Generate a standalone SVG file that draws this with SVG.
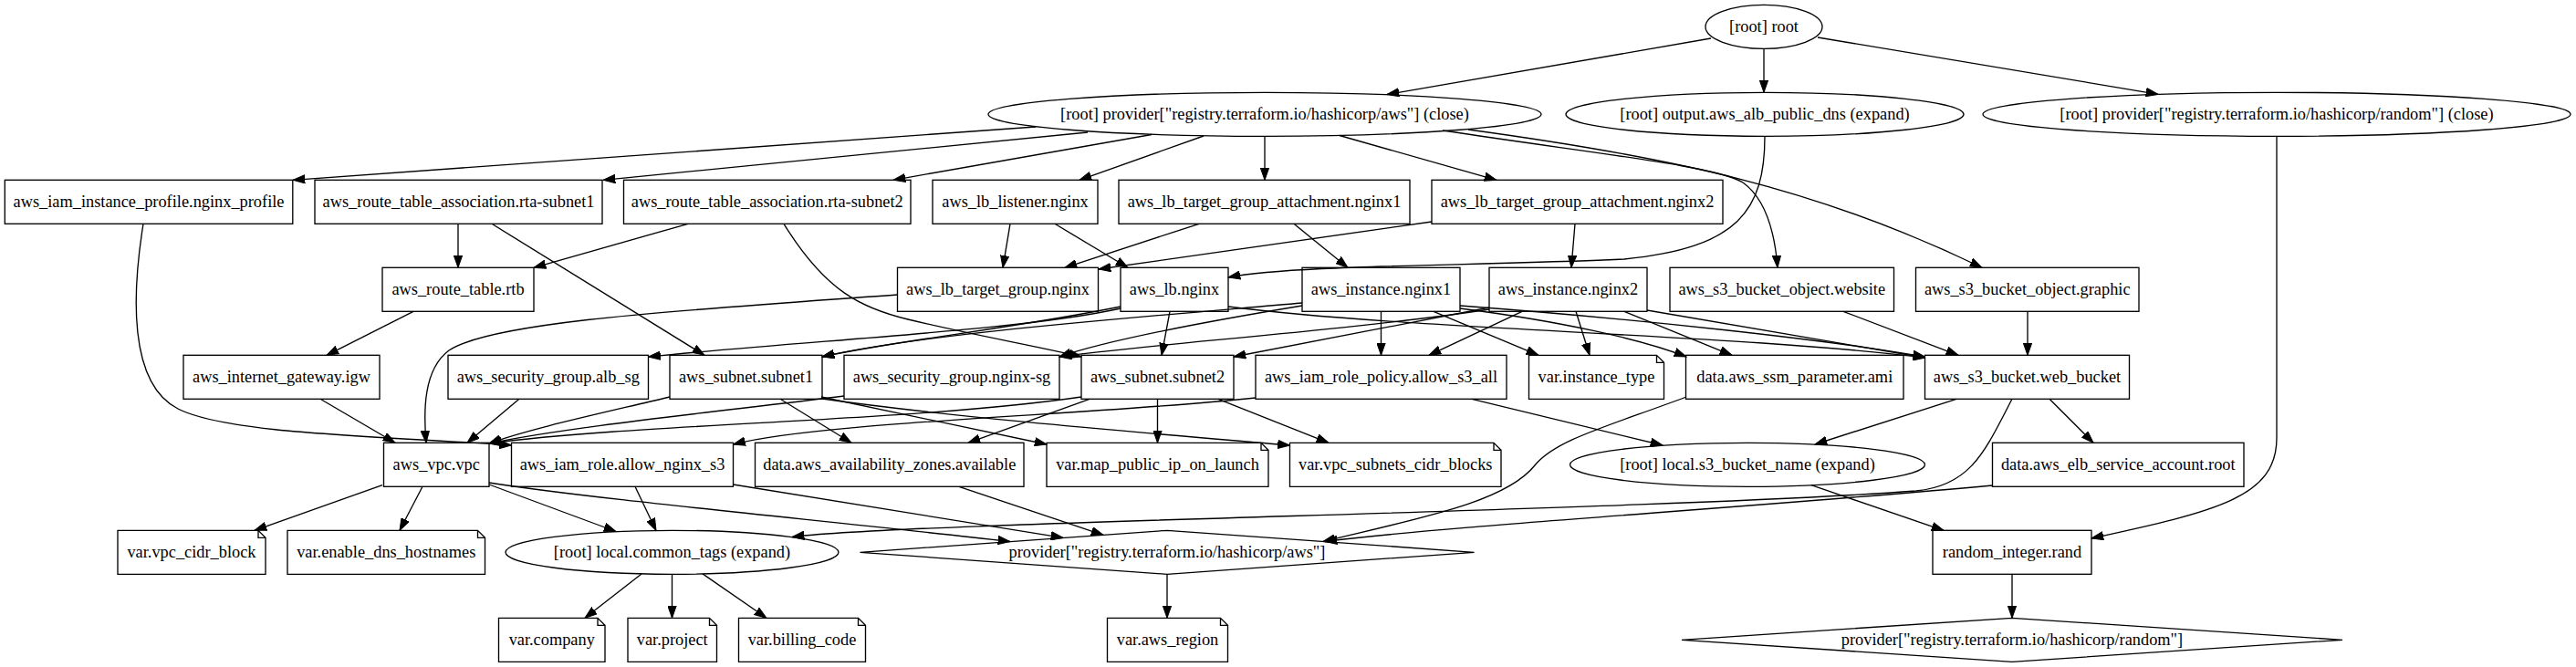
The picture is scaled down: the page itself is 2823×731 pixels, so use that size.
<svg xmlns="http://www.w3.org/2000/svg" width="2823" height="731" viewBox="0 0 2823 731">
<style>
.n rect,.n ellipse,.n polygon,.n path{fill:none;stroke:#000;stroke-width:1.33}
.e path{fill:none;stroke:#000;stroke-width:1.33;marker-end:url(#a)}
text{font-family:"Liberation Serif","Times New Roman",serif;font-size:18.35px;text-anchor:middle;fill:#000}
</style>
<defs>
<marker id="a" markerUnits="userSpaceOnUse" markerWidth="14" markerHeight="10" viewBox="0 0 14 10" refX="13.3" refY="5" orient="auto"><path d="M0,0.33 L13.3,5 L0,9.67 Z" fill="#000" stroke="#000" stroke-width="1"/></marker>
</defs>
<rect width="2823" height="731" fill="#fff"/>
<g id="edges" class="e">
<path d="M1875,42 L1520,103.5"/>
<path d="M1933,53.3 L1933,101.3"/>
<path d="M1992,41 L2365,103.3"/>
<path d="M1135,139 L321,197.3"/>
<path d="M1192,145 L661,197.3"/>
<path d="M1262,147.5 L979,197.3"/>
<path d="M1319,149 L1183,197.3"/>
<path d="M1386,149.3 L1386,197.3"/>
<path d="M1468,148.5 L1640,197.3"/>
<path d="M1581,143 C1760,170 1880,182 1910,200 C1935,218 1945,255 1948,293.3"/>
<path d="M1609,142 C1830,172 1990,205 2172,293.3"/>
<path d="M1934,149.3 C1934,230 1905,272 1780,284 C1600,292 1420,290 1346,304"/>
<path d="M2495,149.3 L2495,480 C2495,545 2430,560 2292,590"/>
<path d="M157,245.3 C145,320 140,420 195,448 C250,476 420,478 560.5,488"/>
<path d="M502,245.3 L502,293.3"/>
<path d="M539,245.3 L772,389.3"/>
<path d="M754,245.3 L585,293.3"/>
<path d="M859,245.3 C905,320 945,338 995,350 C1070,368 1130,378 1185,391"/>
<path d="M1107,245.3 L1099,293.3"/>
<path d="M1156,245.3 L1236,293.3"/>
<path d="M1314,245.3 L1167,293.3"/>
<path d="M1418,245.3 L1477,293.3"/>
<path d="M1569,243 L1204,295"/>
<path d="M1726,245.3 L1722,293.3"/>
<path d="M453,341.3 L358,389.3"/>
<path d="M983.5,323 C750,340 540,352 492,384 C464,405 464,450 467,485.3"/>
<path d="M1228,338 C1120,362 900,372 710.5,391"/>
<path d="M1228,336 C1110,360 990,372 901,391"/>
<path d="M1282,341.3 L1273,389.3"/>
<path d="M1346,336 C1550,362 1900,366 2109.5,392"/>
<path d="M1427,332 C1220,350 1010,366 901,391"/>
<path d="M1427,335 C1300,356 1210,374 1161,391"/>
<path d="M1513.5,341.3 L1513.5,389.3"/>
<path d="M1571,341.3 L1686,389.3"/>
<path d="M1600,338 C1710,352 1800,372 1848,391"/>
<path d="M1600,335 C1800,350 2000,372 2109.5,391"/>
<path d="M1632,337 L1352,391"/>
<path d="M1632,339 C1480,362 1250,378 1161,391"/>
<path d="M1668,341.3 L1566,389.3"/>
<path d="M1727,341.3 L1742,389.3"/>
<path d="M1780,341.3 L1898,389.3"/>
<path d="M1805,340 L2109.5,392"/>
<path d="M2020,341.3 L2146,389.3"/>
<path d="M2222,341.3 L2222,389.3"/>
<path d="M351,437.3 L433,485.3"/>
<path d="M569,437.3 L512,485.3"/>
<path d="M734,435 C650,455 580,470 536,486"/>
<path d="M925,434 C780,452 620,468 536,486"/>
<path d="M1185,435 C1000,462 700,464 536,486"/>
<path d="M855,437.3 L933,485.3"/>
<path d="M900,435 L1147,487"/>
<path d="M901,437 C1050,458 1250,474 1413.5,488"/>
<path d="M1194,437.3 L1061,485.3"/>
<path d="M1268.5,437.3 L1268.5,485.3"/>
<path d="M1335,437.3 L1456,485.3"/>
<path d="M1376,436 C1200,455 900,462 803.5,487"/>
<path d="M1613,437.3 L1822,488"/>
<path d="M1848,435 C1760,468 1705,482 1682,510 C1650,550 1560,567 1450,593.5"/>
<path d="M2144,437.3 L1989,487"/>
<path d="M2246,437.3 L2294,485.3"/>
<path d="M2205,437.3 C2175,495 2160,532 2100,538 C1800,560 1000,572 868,588.5"/>
<path d="M2183.5,532 C1900,558 1600,575 1452,593.5"/>
<path d="M419,531.7 L279,581.3"/>
<path d="M463,533.3 L438,581.3"/>
<path d="M536,531 L675,582.5"/>
<path d="M536,529 C650,547 900,570 1107,593.5"/>
<path d="M696,533.3 L719,581.5"/>
<path d="M803.5,531 L1165,589.4"/>
<path d="M1051,533.3 L1209,586.3"/>
<path d="M1985,531.7 L2130,581.3"/>
<path d="M703,629 L641,677.3"/>
<path d="M736.5,629.3 L736.5,677.3"/>
<path d="M770,628.9 L840,677.3"/>
<path d="M1279,629.3 L1279,677.3"/>
<path d="M2205,629.3 L2205,677.3"/>
</g>
<g id="root" class="n"><ellipse cx="1933" cy="29.3" rx="64" ry="24"/><text x="1933" y="34.8">[root] root</text></g>
<g id="provider_aws_close" class="n"><ellipse cx="1386" cy="125.3" rx="303" ry="24"/><text x="1386" y="130.8">[root] provider["registry.terraform.io/hashicorp/aws"] (close)</text></g>
<g id="output_dns" class="n"><ellipse cx="1934" cy="125.3" rx="218" ry="24"/><text x="1934" y="130.8">[root] output.aws_alb_public_dns (expand)</text></g>
<g id="provider_random_close" class="n"><ellipse cx="2495" cy="125.3" rx="322" ry="24"/><text x="2495" y="130.8">[root] provider["registry.terraform.io/hashicorp/random"] (close)</text></g>
<g id="iam_profile" class="n"><rect x="5.3" y="197.3" width="315.5" height="48"/><text x="163" y="226.8">aws_iam_instance_profile.nginx_profile</text></g>
<g id="rta1" class="n"><rect x="345" y="197.3" width="315" height="48"/><text x="502.5" y="226.8">aws_route_table_association.rta-subnet1</text></g>
<g id="rta2" class="n"><rect x="683.5" y="197.3" width="314.5" height="48"/><text x="840.75" y="226.8">aws_route_table_association.rta-subnet2</text></g>
<g id="lb_listener" class="n"><rect x="1022" y="197.3" width="181" height="48"/><text x="1112.5" y="226.8">aws_lb_listener.nginx</text></g>
<g id="tga1" class="n"><rect x="1226" y="197.3" width="319" height="48"/><text x="1385.5" y="226.8">aws_lb_target_group_attachment.nginx1</text></g>
<g id="tga2" class="n"><rect x="1569" y="197.3" width="319" height="48"/><text x="1728.5" y="226.8">aws_lb_target_group_attachment.nginx2</text></g>
<g id="rtb" class="n"><rect x="419" y="293.3" width="166" height="48"/><text x="502" y="322.8">aws_route_table.rtb</text></g>
<g id="lb_tg" class="n"><rect x="983.5" y="293.3" width="220" height="48"/><text x="1093.5" y="322.8">aws_lb_target_group.nginx</text></g>
<g id="lb" class="n"><rect x="1228" y="293.3" width="118" height="48"/><text x="1287" y="322.8">aws_lb.nginx</text></g>
<g id="inst1" class="n"><rect x="1427" y="293.3" width="173" height="48"/><text x="1513.5" y="322.8">aws_instance.nginx1</text></g>
<g id="inst2" class="n"><rect x="1632" y="293.3" width="173" height="48"/><text x="1718.5" y="322.8">aws_instance.nginx2</text></g>
<g id="website" class="n"><rect x="1830" y="293.3" width="245.5" height="48"/><text x="1952.75" y="322.8">aws_s3_bucket_object.website</text></g>
<g id="graphic" class="n"><rect x="2099.5" y="293.3" width="244.5" height="48"/><text x="2221.75" y="322.8">aws_s3_bucket_object.graphic</text></g>
<g id="igw" class="n"><rect x="201" y="389.3" width="215" height="48"/><text x="308.5" y="418.8">aws_internet_gateway.igw</text></g>
<g id="alb_sg" class="n"><rect x="491" y="389.3" width="219.5" height="48"/><text x="600.75" y="418.8">aws_security_group.alb_sg</text></g>
<g id="subnet1" class="n"><rect x="734" y="389.3" width="167" height="48"/><text x="817.5" y="418.8">aws_subnet.subnet1</text></g>
<g id="nginx_sg" class="n"><rect x="925" y="389.3" width="236" height="48"/><text x="1043" y="418.8">aws_security_group.nginx-sg</text></g>
<g id="subnet2" class="n"><rect x="1185" y="389.3" width="167" height="48"/><text x="1268.5" y="418.8">aws_subnet.subnet2</text></g>
<g id="role_policy" class="n"><rect x="1376" y="389.3" width="275" height="48"/><text x="1513.5" y="418.8">aws_iam_role_policy.allow_s3_all</text></g>
<g id="var_instance_type" class="n"><path d="M1675.5,389.3H1815.5L1823.5,397.3V437.3H1675.5ZM1815.5,389.3V397.3H1823.5"/><text x="1749.5" y="418.8">var.instance_type</text></g>
<g id="ssm" class="n"><rect x="1847.5" y="389.3" width="238.5" height="48"/><text x="1966.75" y="418.8">data.aws_ssm_parameter.ami</text></g>
<g id="web_bucket" class="n"><rect x="2109.5" y="389.3" width="224" height="48"/><text x="2221.5" y="418.8">aws_s3_bucket.web_bucket</text></g>
<g id="vpc" class="n"><rect x="420.5" y="485.3" width="115.5" height="48"/><text x="478.25" y="514.8">aws_vpc.vpc</text></g>
<g id="iam_role" class="n"><rect x="560.5" y="485.3" width="243" height="48"/><text x="682" y="514.8">aws_iam_role.allow_nginx_s3</text></g>
<g id="data_az" class="n"><rect x="827.5" y="485.3" width="294.5" height="48"/><text x="974.75" y="514.8">data.aws_availability_zones.available</text></g>
<g id="var_map_public_ip" class="n"><path d="M1147,485.3H1382L1390,493.3V533.3H1147ZM1382,485.3V493.3H1390"/><text x="1268.5" y="514.8">var.map_public_ip_on_launch</text></g>
<g id="var_vpc_subnets" class="n"><path d="M1413.5,485.3H1637L1645,493.3V533.3H1413.5ZM1637,485.3V493.3H1645"/><text x="1529.25" y="514.8">var.vpc_subnets_cidr_blocks</text></g>
<g id="s3_bucket_name" class="n"><ellipse cx="1915" cy="509.3" rx="194.5" ry="24"/><text x="1915" y="514.8">[root] local.s3_bucket_name (expand)</text></g>
<g id="data_elb" class="n"><rect x="2183.5" y="485.3" width="275.5" height="48"/><text x="2321.25" y="514.8">data.aws_elb_service_account.root</text></g>
<g id="var_vpc_cidr" class="n"><path d="M129,581.3H283L291,589.3V629.3H129ZM283,581.3V589.3H291"/><text x="210" y="610.8">var.vpc_cidr_block</text></g>
<g id="var_enable_dns" class="n"><path d="M315,581.3H523.5L531.5,589.3V629.3H315ZM523.5,581.3V589.3H531.5"/><text x="423.25" y="610.8">var.enable_dns_hostnames</text></g>
<g id="common_tags" class="n"><ellipse cx="736.5" cy="605.3" rx="182.5" ry="24"/><text x="736.5" y="610.8">[root] local.common_tags (expand)</text></g>
<g id="provider_aws" class="n"><polygon points="1279,581.3 1615.5,605.3 1279,629.3 942.5,605.3"/><text x="1279" y="610.8">provider["registry.terraform.io/hashicorp/aws"]</text></g>
<g id="rand" class="n"><rect x="2118" y="581.3" width="174" height="48"/><text x="2205" y="610.8">random_integer.rand</text></g>
<g id="var_company" class="n"><path d="M546.5,677.3H655L663,685.3V725.3H546.5ZM655,677.3V685.3H663"/><text x="604.75" y="706.8">var.company</text></g>
<g id="var_project" class="n"><path d="M688,677.3H777.5L785.5,685.3V725.3H688ZM777.5,677.3V685.3H785.5"/><text x="736.75" y="706.8">var.project</text></g>
<g id="var_billing_code" class="n"><path d="M809.5,677.3H940.5L948.5,685.3V725.3H809.5ZM940.5,677.3V685.3H948.5"/><text x="879" y="706.8">var.billing_code</text></g>
<g id="var_aws_region" class="n"><path d="M1213.5,677.3H1337.5L1345.5,685.3V725.3H1213.5ZM1337.5,677.3V685.3H1345.5"/><text x="1279.5" y="706.8">var.aws_region</text></g>
<g id="provider_random" class="n"><polygon points="2205,677.3 2567,701.3 2205,725.3 1843,701.3"/><text x="2205" y="706.8">provider["registry.terraform.io/hashicorp/random"]</text></g>
</svg>
